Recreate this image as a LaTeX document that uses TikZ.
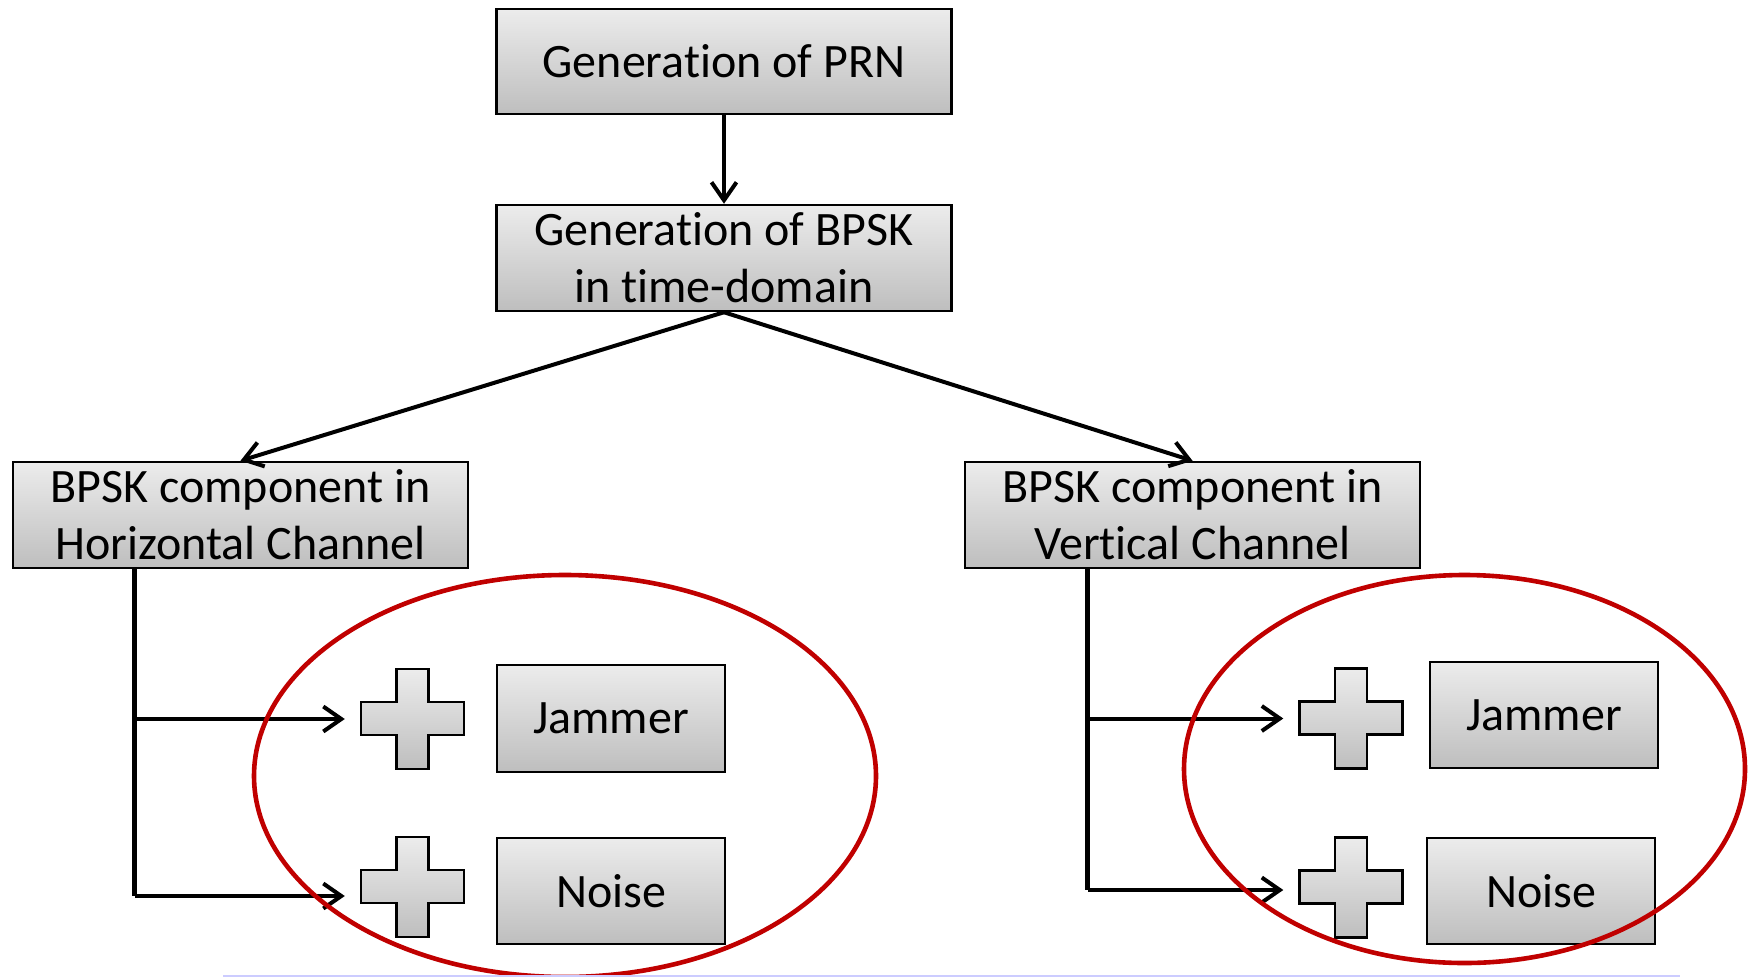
\documentclass[tikz,border=0pt]{standalone}
\usepackage{fontspec}
\setmainfont{Carlito}[Ligatures=NoCommon]
\usetikzlibrary{arrows.meta}
\definecolor{boxtop}{RGB}{236,236,236}
\definecolor{boxbot}{RGB}{190,190,190}
\definecolor{ringred}{RGB}{192,0,0}
\definecolor{rulelav}{RGB}{204,204,255}
\tikzset{
  graybox/.style={draw=black,line width=2.5pt,top color=boxtop,bottom color=boxbot},
  stagebox/.style={graybox,inner sep=0pt,align=center,font=\fontsize{48}{57}\selectfont},
  crossnode/.style={inner sep=0pt,minimum width=103pt,minimum height=100pt},
  link/.style={line width=4pt,-{Straight Barb[length=18pt,width=25pt]}},
  trunk/.style={line width=5.5pt},
  ring/.style={draw=ringred,line width=4.6pt},
  pics/crossmark/.style={code={
    \draw[graybox] (-16,-50) -- (16,-50) -- (16,-17) -- (51.5,-17) -- (51.5,16)
      -- (16,16) -- (16,50) -- (-16,50) -- (-16,16) -- (-51.5,16) -- (-51.5,-17)
      -- (-16,-17) -- cycle;}}
}
\begin{document}
\begin{tikzpicture}[x=1pt,y=-1pt]
\useasboundingbox (0,0) rectangle (1748,977);
\node[stagebox,minimum width=455pt,minimum height=105pt] (prn) at (724,61.5) {Generation of PRN};
\node[stagebox,minimum width=455pt,minimum height=106pt] (bpsk) at (724,258) {Generation of BPSK\\in time-domain};
\node[stagebox,minimum width=455pt,minimum height=106pt] (hch) at (240.5,515) {BPSK component in\\Horizontal Channel};
\node[stagebox,minimum width=455pt,minimum height=106pt] (vch) at (1192.5,515) {BPSK component in\\Vertical Channel};
\node[stagebox,minimum width=228pt,minimum height=107pt] (jl) at (611,718.5) {Jammer};
\node[stagebox,minimum width=228pt,minimum height=106pt] (nl) at (611,891) {Noise};
\node[stagebox,minimum width=228pt,minimum height=106pt] (jr) at (1544,715) {Jammer};
\node[stagebox,minimum width=228pt,minimum height=106pt] (nr) at (1541,891) {Noise};
\node[crossnode] (cl1) at (412.5,719) {};
\node[crossnode] (cl2) at (412.5,887) {};
\node[crossnode] (cr1) at (1351,718.5) {};
\node[crossnode] (cr2) at (1351,887.5) {};
\foreach \c in {cl1,cl2,cr1,cr2} \pic at (\c) {crossmark};
\draw[link] (prn) -- (bpsk);
\draw[link] (bpsk.south) -- (hch.north);
\draw[link] (bpsk.south) -- (vch.north);
% left branch
\coordinate (hend) at (134.5,896);
\draw[trunk] (hch.south -| hend) -- (hend);
\draw[link] (cl1.west -| hend) -- ([xshift=-16pt]cl1.west);
\draw[link] (hend) -- ([xshift=-16pt]cl2.west |- hend);
% right branch
\coordinate (vend) at (1087.5,890);
\draw[trunk] (vch.south -| vend) -- (vend);
\draw[link] (cr1.west -| vend) -- ([xshift=-16pt]cr1.west);
\draw[link] (vend) -- ([xshift=-16pt]cr2.west |- vend);
\draw[ring] (565,776) ellipse [x radius=311,y radius=201];
\draw[ring] (1464.5,769) ellipse [x radius=280.5,y radius=194];
\draw[rulelav,line width=1.5pt] (223,976) -- (1680,976);
\end{tikzpicture}
\end{document}
